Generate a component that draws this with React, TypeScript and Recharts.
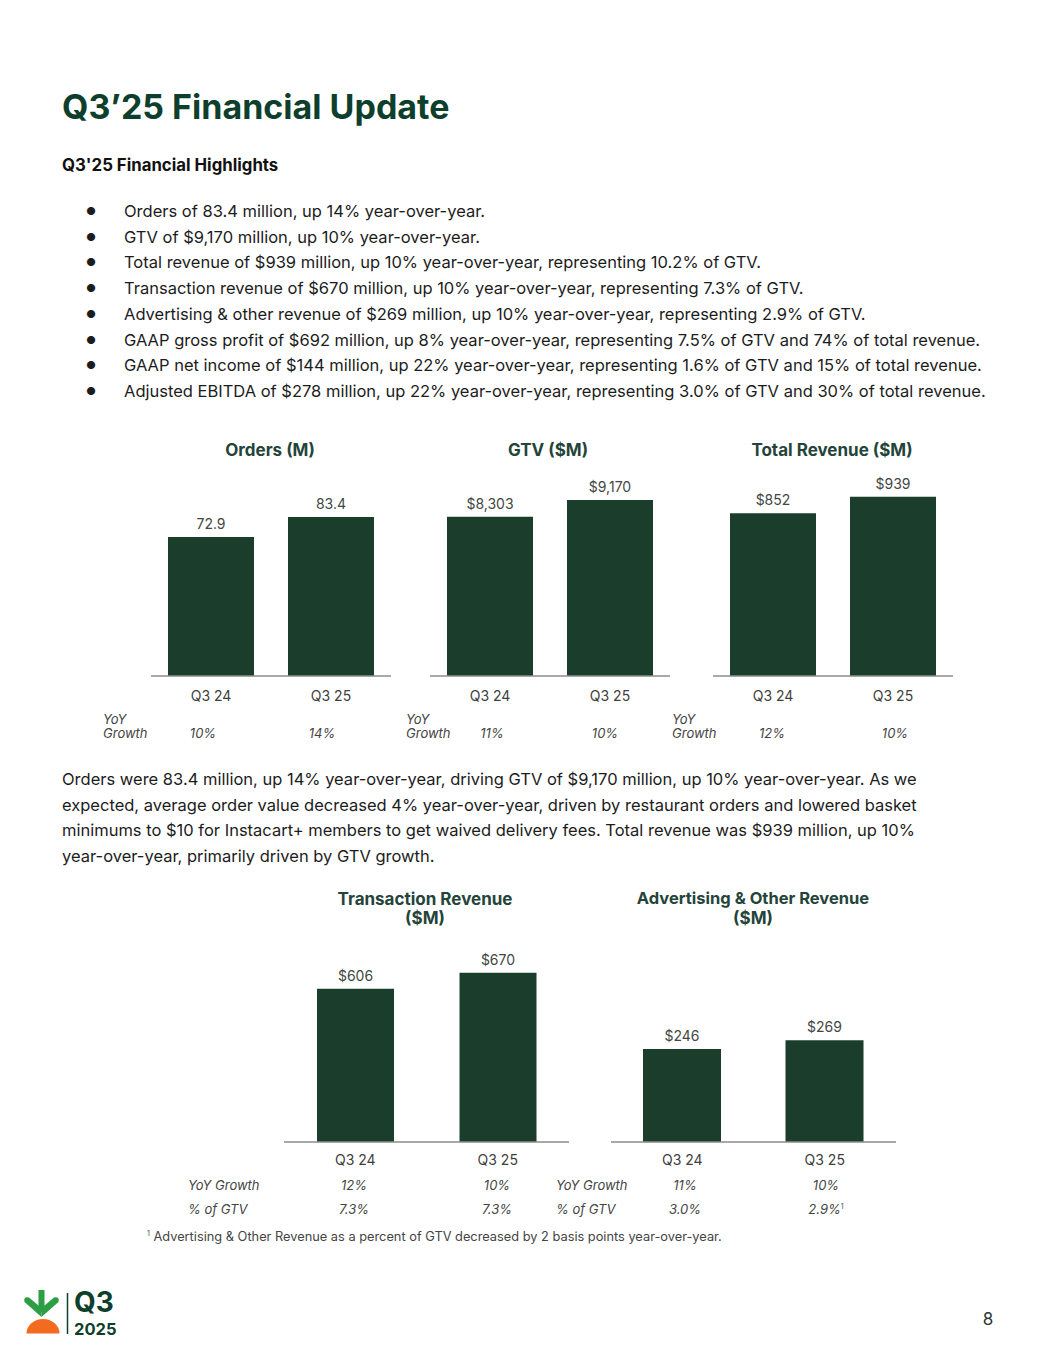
import React from "react";
import { Bar, BarChart, LabelList, XAxis, YAxis } from "recharts";

const periods = ["Q3 24", "Q3 25"];
const orders = [72.9, 83.4];
const gtv = [8303, 9170];
const totalRevenue = [852, 939];
const transactionRevenue = [606, 670];
const adRevenue = [246, 269];

const ordersGrowth = ["10%", "14%"];
const gtvGrowth = ["11%", "10%"];
const revenueGrowth = ["12%", "10%"];
const transactionGrowth = ["12%", "10%"];
const adGrowth = ["11%", "10%"];
const transactionPctGtv = ["7.3%", "7.3%"];
const adPctGtv = ["3.0%", "2.9%"];

const highlights = [
  "Orders of 83.4 million, up 14% year-over-year.",
  "GTV of $9,170 million, up 10% year-over-year.",
  "Total revenue of $939 million, up 10% year-over-year, representing 10.2% of GTV.",
  "Transaction revenue of $670 million, up 10% year-over-year, representing 7.3% of GTV.",
  "Advertising & other revenue of $269 million, up 10% year-over-year, representing 2.9% of GTV.",
  "GAAP gross profit of $692 million, up 8% year-over-year, representing 7.5% of GTV and 74% of total revenue.",
  "GAAP net income of $144 million, up 22% year-over-year, representing 1.6% of GTV and 15% of total revenue.",
  "Adjusted EBITDA of $278 million, up 22% year-over-year, representing 3.0% of GTV and 30% of total revenue.",
];

const paragraph = [
  "Orders were 83.4 million, up 14% year-over-year, driving GTV of $9,170 million, up 10% year-over-year. As we",
  "expected, average order value decreased 4% year-over-year, driven by restaurant orders and lowered basket",
  "minimums to $10 for Instacart+ members to get waived delivery fees. Total revenue was $939 million, up 10%",
  "year-over-year, primarily driven by GTV growth.",
];

const FONT = "Inter, 'Noto Sans', sans-serif";
const GREEN = "#0e3f2d";
const BAR = "#1b3d2c";
const TITLE = "#24443a";
const GREY = "#404040";

const money = (v: number) => "$" + v.toLocaleString("en-US");
const plain = (v: number) => String(v);

function T({
  x,
  y,
  anchor = "start",
  style,
  children,
}: {
  x: number;
  y: number;
  anchor?: "start" | "middle";
  style?: React.CSSProperties;
  children: React.ReactNode;
}) {
  return (
    <div
      style={{
        position: "absolute",
        left: x,
        top: y,
        transform: `translate(${anchor === "middle" ? "-50%" : "0"}, -50%)`,
        whiteSpace: "nowrap",
        lineHeight: 1.2,
        ...style,
      }}
    >
      {children}
    </div>
  );
}

function MiniBar({
  values,
  format,
  left,
  top,
  width,
  plotHeight,
  yMax,
  barSize,
  tickMargin,
}: {
  values: number[];
  format: (v: number) => string;
  left: number;
  top: number;
  width: number;
  plotHeight: number;
  yMax: number;
  barSize: number;
  tickMargin: number;
}) {
  const data = periods.map((p, i) => ({ period: p, value: values[i] }));
  return (
    <div style={{ position: "absolute", left, top }}>
      <BarChart
        width={width}
        height={plotHeight + 34}
        data={data}
        margin={{ top: 0, right: 0, bottom: 0, left: 0 }}
      >
        <XAxis
          dataKey="period"
          axisLine={{ stroke: "#8c8c8c", strokeWidth: 1.3 }}
          tickLine={false}
          tick={{ fontSize: 14, fill: GREY, fontFamily: FONT }}
          tickMargin={tickMargin}
          height={34}
          interval={0}
        />
        <YAxis hide type="number" domain={[0, yMax]} allowDataOverflow />
        <Bar dataKey="value" fill={BAR} barSize={barSize} isAnimationActive={false}>
          <LabelList
            dataKey="value"
            position="top"
            offset={8}
            formatter={(v: any) => format(Number(v))}
            style={{ fontSize: 14, fill: "#3f4844", fontFamily: FONT }}
          />
        </Bar>
      </BarChart>
    </div>
  );
}

const italic: React.CSSProperties = { fontStyle: "italic", fontSize: 13, color: "#444" };
const chartTitle: React.CSSProperties = { fontWeight: 700, fontSize: 17, color: TITLE };
const body: React.CSSProperties = { fontSize: 16.5, color: "#1c1c1c" };

function GrowthRow({ x, centers, values }: { x: number; centers: number[]; values: string[] }) {
  return (
    <>
      <T x={x} y={720} style={italic}>YoY</T>
      <T x={x} y={734} style={italic}>Growth</T>
      {values.map((v, i) => (
        <T key={i} x={centers[i]} y={734} anchor="middle" style={italic}>
          {v}
        </T>
      ))}
    </>
  );
}

export default function App() {
  return (
    <div
      style={{
        position: "absolute",
        left: 0,
        top: 0,
        width: 1055,
        height: 1365,
        background: "#fff",
        fontFamily: FONT,
        overflow: "hidden",
      }}
    >
      <T x={62} y={107} style={{ fontSize: 34, fontWeight: 700, color: GREEN }}>
        Q3’25 Financial Update
      </T>
      <T x={62} y={165} style={{ fontSize: 16.8, fontWeight: 700, color: "#111" }}>
        Q3'25 Financial Highlights
      </T>

      {highlights.map((h, i) => (
        <React.Fragment key={i}>
          <T x={86} y={212 + i * 25.7} style={{ fontSize: 11, color: "#1c1c1c" }}>
            ●
          </T>
          <T x={124} y={212 + i * 25.7} style={body}>
            {h}
          </T>
        </React.Fragment>
      ))}

      {/* top row of charts */}
      <T x={270} y={450} anchor="middle" style={chartTitle}>Orders (M)</T>
      <T x={548} y={450} anchor="middle" style={chartTitle}>GTV ($M)</T>
      <T x={832} y={450} anchor="middle" style={chartTitle}>Total Revenue ($M)</T>

      <MiniBar values={orders} format={plain} left={151} top={460} width={240} plotHeight={216} yMax={113.3} barSize={86} tickMargin={9} />
      <MiniBar values={gtv} format={money} left={430} top={460} width={240} plotHeight={216} yMax={11254} barSize={86} tickMargin={9} />
      <MiniBar values={totalRevenue} format={money} left={713} top={460} width={240} plotHeight={216} yMax={1131} barSize={86} tickMargin={9} />

      <GrowthRow x={103} centers={[203, 322]} values={ordersGrowth} />
      <GrowthRow x={406} centers={[492, 605]} values={gtvGrowth} />
      <GrowthRow x={672} centers={[772, 895]} values={revenueGrowth} />

      {paragraph.map((line, i) => (
        <T key={i} x={62} y={780 + i * 25.7} style={body}>
          {line}
        </T>
      ))}

      {/* bottom row of charts */}
      <T x={425} y={899} anchor="middle" style={chartTitle}>Transaction Revenue</T>
      <T x={425} y={918} anchor="middle" style={chartTitle}>($M)</T>
      <T x={753} y={899} anchor="middle" style={{ ...chartTitle, fontSize: 16.5 }}>Advertising &amp; Other Revenue</T>
      <T x={753} y={918} anchor="middle" style={chartTitle}>($M)</T>

      <MiniBar values={transactionRevenue} format={money} left={284} top={930} width={285} plotHeight={212} yMax={839} barSize={77} tickMargin={7} />
      <MiniBar values={adRevenue} format={money} left={611} top={930} width={285} plotHeight={212} yMax={560.7} barSize={78} tickMargin={7} />

      <T x={188} y={1186} style={italic}>YoY Growth</T>
      <T x={188} y={1210} style={italic}>% of GTV</T>
      <T x={556} y={1186} style={italic}>YoY Growth</T>
      <T x={556} y={1210} style={italic}>% of GTV</T>
      {transactionGrowth.map((v, i) => (
        <T key={"tg" + i} x={[354, 497][i]} y={1186} anchor="middle" style={italic}>{v}</T>
      ))}
      {transactionPctGtv.map((v, i) => (
        <T key={"tp" + i} x={[354, 497][i]} y={1210} anchor="middle" style={italic}>{v}</T>
      ))}
      {adGrowth.map((v, i) => (
        <T key={"ag" + i} x={[685, 826][i]} y={1186} anchor="middle" style={italic}>{v}</T>
      ))}
      {adPctGtv.map((v, i) => (
        <T key={"ap" + i} x={[685, 826][i]} y={1210} anchor="middle" style={italic}>
          {v}
          {i === 1 ? <sup style={{ fontSize: 7, fontStyle: "normal" }}>1</sup> : null}
        </T>
      ))}

      <T x={147} y={1237} style={{ fontSize: 12.8, color: "#444" }}>
        <sup style={{ fontSize: 7 }}>1</sup> Advertising &amp; Other Revenue as a percent of GTV decreased by 2 basis points year-over-year.
      </T>

      {/* logo */}
      <svg style={{ position: "absolute", left: 0, top: 1280 }} width={70} height={70}>
        <rect x={38.5} y={10} width={6} height={22} fill="#2e9e44" />
        <path d="M41.5 37 L24.5 22 Q23 16.5 29 17.5 L41.5 28 Z" fill="#2e9e44" />
        <path d="M41.5 37 L58.5 22 Q60 16.5 54 17.5 L41.5 28 Z" fill="#2e9e44" />
        <path d="M26.5 53.5 A16.5 14.5 0 0 1 59.5 53.5 Z" fill="#f36b21" />
        <line x1={67.5} y1={13} x2={67.5} y2={54} stroke={GREEN} strokeWidth={1.5} />
      </svg>
      <T x={74} y={1301.5} style={{ fontSize: 28, fontWeight: 700, color: GREEN, lineHeight: 1 }}>Q3</T>
      <T x={74} y={1328.5} style={{ fontSize: 16.5, fontWeight: 700, color: GREEN, lineHeight: 1 }}>2025</T>

      <T x={988} y={1319} anchor="middle" style={{ fontSize: 17, color: "#2a3a33" }}>8</T>
    </div>
  );
}
